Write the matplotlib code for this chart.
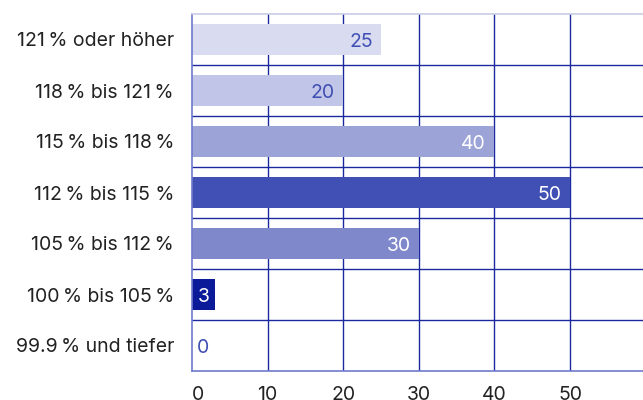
import numpy as np
from matplotlib import pyplot as plt

nb = '\u202f'
categories = ['121' + nb + '% oder höher', '118' + nb + '% bis 121' + nb + '%',
              '115' + nb + '% bis 118' + nb + '%', '112' + nb + '% bis 115 %',
              '105' + nb + '% bis 112' + nb + '%', '100' + nb + '% bis 105' + nb + '%',
              '99.9' + nb + '% und tiefer']
values = [25, 20, 40, 50, 30, 3, 0]
bar_colors = ['#D9DBF0', '#C1C5E7', '#9BA3D7', '#4050B4', '#8088CC', '#0A1A99', '#FFFFFF']
text_colors = ['#3F4FB3', '#3F4FB3', '#FFFFFF', '#FFFFFF', '#FFFFFF', '#FFFFFF', '#3F4FB3']
xticks = [0, 10, 20, 30, 40, 50]

plt.rcParams['font.family'] = ['Inter', 'DejaVu Sans']
grid_col = '#1A2A9E'
fs = 14

fig = plt.figure(figsize=(6.43, 4.0), dpi=100)
ax = fig.add_axes([192 / 643, 29 / 400, 451 / 643, 357 / 400])

y = np.arange(len(categories))[::-1]
ax.set_ylim(-0.5, len(categories) - 0.5)
ax.set_xlim(0, 59.65)

# row separators and vertical grid
for k in range(1, len(categories)):
    ax.axhline(k - 0.5, color=grid_col, lw=1, zorder=1)
for t in xticks[1:]:
    ax.axvline(t, color=grid_col, lw=1, zorder=1)

ax.barh(y, values, height=0.6, color=bar_colors, zorder=2)

for yi, v, tc in zip(y, values, text_colors):
    if v >= 10:
        ax.annotate(str(v), (v, yi), xytext=(-6, -1.5), textcoords='offset points',
                    ha='right', va='center', color=tc, fontsize=fs, zorder=3)
    else:
        ax.annotate(str(v), (1.5, yi), xytext=(0, -1.5), textcoords='offset points',
                    ha='center', va='center', color=tc, fontsize=fs, zorder=3)

ax.set_yticks(y)
ax.set_yticklabels(categories)
ax.set_xticks(xticks)
ax.tick_params(axis='both', length=0, labelsize=fs, labelcolor='#222222')
ax.tick_params(axis='y', pad=13)
ax.tick_params(axis='x', pad=11)
ax.get_xticklabels()[0].set_horizontalalignment('left')

ax.spines['right'].set_visible(False)
ax.spines['top'].set_color('#C8CCE8')
ax.spines['left'].set_color('#6F7ACC')
ax.spines['bottom'].set_color('#6F7ACC')
for s in ['top', 'left', 'bottom']:
    ax.spines[s].set_linewidth(1.2)

fig.savefig('out.png', dpi=100)
